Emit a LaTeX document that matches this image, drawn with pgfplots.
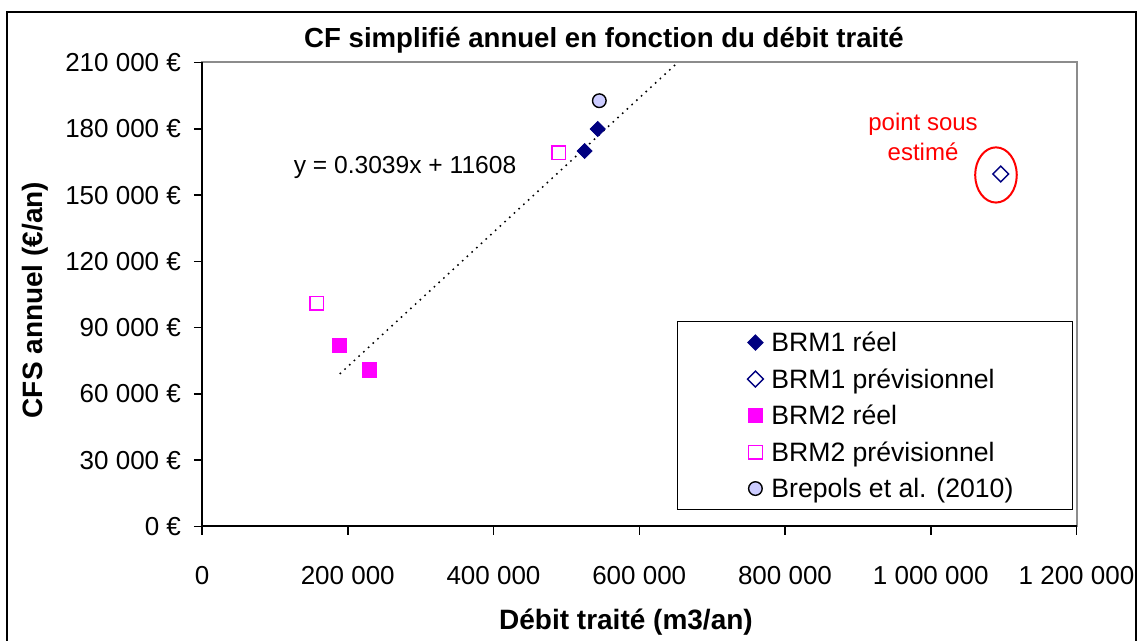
\documentclass[border=0pt]{standalone}
\usepackage{fontspec}
\setmainfont{Liberation Sans}
\usepackage{pgfplots}
\pgfplotsset{compat=1.18}
\definecolor{navy}{HTML}{000080}
\definecolor{mag}{HTML}{FF00FF}
\definecolor{lav}{HTML}{CCCCFF}
\begin{document}
\begin{tikzpicture}
\useasboundingbox (-101pt,-57.25pt) rectangle (468pt,263.25pt);
% chart frame (bottom edge lies below the page)
\draw[line width=1pt] (-97.5pt,-80pt) -- (-97.5pt,257.25pt) -- (466.75pt,257.25pt) -- (466.75pt,-80pt);
\begin{axis}[
  scale only axis, width=437.25pt, height=232pt,
  xmin=0, xmax=1200000, ymin=0, ymax=210000,
  clip=false, scaled ticks=false,
  xtick={0,200000,400000,600000,800000,1000000,1200000},
  xticklabels={0,200 000,400 000,600 000,800 000,1 000 000,1 200 000},
  ytick={0,30000,60000,90000,120000,150000,180000,210000},
  yticklabels={0 €,30 000 €,60 000 €,90 000 €,120 000 €,150 000 €,180 000 €,210 000 €},
  xtick pos=bottom, ytick pos=left,
  tick align=outside, major tick length=4pt,
  tick style={black, line width=0.75pt},
  axis line style={draw=black!45, line width=1pt},
  ticklabel style={font=\fontsize{13}{15}\selectfont},
  xticklabel style={yshift=-12.5pt},
  yticklabel style={xshift=-3pt},
  legend style={at={(rel axis cs:0.996,0.443)}, anchor=north east,
    draw=black, line width=0.6pt, inner xsep=29.5pt, inner ysep=4pt,
    font=\fontsize{13.3}{15}\selectfont, row sep=5.25pt, column sep=4pt,
    nodes={inner sep=0pt, text height=11pt, text depth=2pt}},
  legend cell align=left,
  legend image code/.code={\path[draw=none,fill=none] (-9.5pt,0pt) -- (4pt,0pt); \draw[#1] plot coordinates {(0pt,0pt)};},
]
% trend line y = 0.3039x + 11608
\addplot[forget plot, black, line width=0.75pt, dash pattern=on 0.8pt off 2.4pt]
  coordinates {(189000,69045) (652800,210000)};

\addplot[only marks, mark=square*, mark size=2.65pt,
  mark options={rotate=45, fill=navy, draw=navy}]
  coordinates {(543000,179900) (525100,169950)};
\addlegendentry{BRM1 réel}

\addplot[only marks, mark=square, mark size=2.8pt,
  mark options={rotate=45, draw=navy, fill=white, line width=0.7pt}]
  coordinates {(1096000,159540)};
\addlegendentry{BRM1 prévisionnel}

\addplot[only marks, mark=square*, mark size=3.6pt,
  mark options={fill=mag, draw=mag}]
  coordinates {(188950,81830) (230100,70830)};
\addlegendentry{BRM2 réel}

\addplot[only marks, mark=square, mark size=3.4pt,
  mark options={draw=mag, fill=white, line width=0.7pt}]
  coordinates {(489500,169050) (157800,101150)};
\addlegendentry{BRM2 prévisionnel}

\addplot[only marks, mark=*, mark size=3.4pt,
  mark options={fill=lav, draw=black, line width=0.7pt}]
  coordinates {(545200,192700)};
\addlegendentry{Brepols et al. (2010)}

\draw[black, line width=1pt] (rel axis cs:0,1) -- (rel axis cs:0,0) -- (rel axis cs:1,0);
\node[font=\fontsize{12.3}{14}\selectfont] at (axis cs:278600,162700) {y = 0.3039x + 11608};
\draw[red, line width=1pt] (axis cs:1089500,159100) ellipse [x radius=10.4pt, y radius=13.8pt];
\node[red, align=center, font=\fontsize{12}{15}\selectfont] at (axis cs:989400,176300) {point sous\\estimé};
\end{axis}
\node[font=\bfseries\fontsize{13.8}{16}\selectfont] at (201pt,243.25pt) {CF simplifié annuel en fonction du débit traité};
\node[font=\bfseries\fontsize{14}{16}\selectfont, rotate=90] at (-83.5pt,113.25pt) {CFS annuel (€/an)};
\node[font=\bfseries\fontsize{14}{16}\selectfont] at (212pt,-47.75pt) {Débit traité (m3/an)};
\end{tikzpicture}
\end{document}
